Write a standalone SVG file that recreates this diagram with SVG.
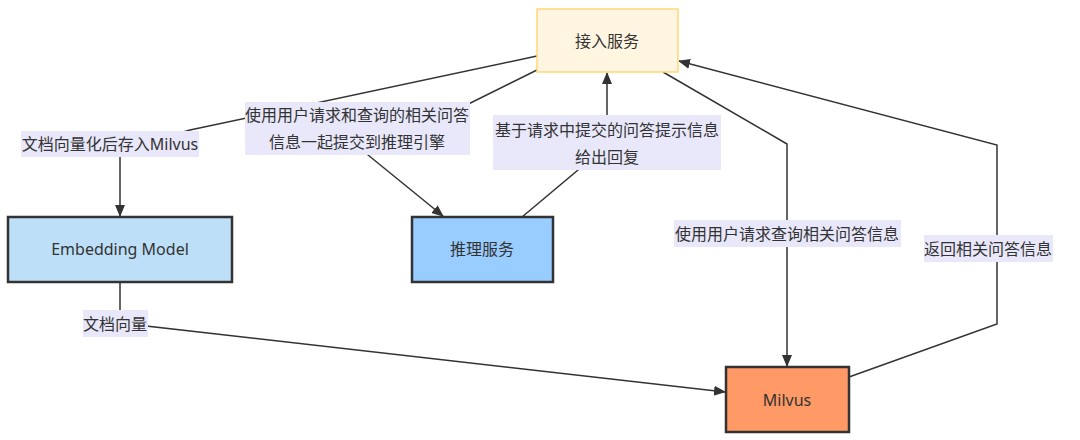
<svg xmlns="http://www.w3.org/2000/svg" width="1080" height="440" viewBox="0 0 1080 440">
<style>
text{font-family:"Noto Sans","Noto Sans CJK SC",sans-serif;font-size:16px;fill:#333;text-anchor:middle;dominant-baseline:central}
.edge{fill:none;stroke:#333;stroke-width:1.5}
.lbl{fill:#e8e8fa}
.node{stroke:#333;stroke-width:2.5}
</style>
<defs>
<marker id="arr" markerUnits="userSpaceOnUse" markerWidth="12" markerHeight="12" viewBox="0 0 12 12" refX="11" refY="6" orient="auto">
<path d="M0,1 L12,6 L0,11 z" fill="#333"/>
</marker>
</defs>
<rect width="1080" height="440" fill="#fff"/>
<g id="connectors">
<path class="edge" d="M537,56 L190,130 L120,150 L120,216" marker-end="url(#arr)"/>
<path class="edge" d="M537,70 L420,128 L368,155 L443,216" marker-end="url(#arr)"/>
<path class="edge" d="M522,217 L578,170 L607,130 L607,73" marker-end="url(#arr)"/>
<path class="edge" d="M663,72 L787,144 L787,366" marker-end="url(#arr)"/>
<path class="edge" d="M849,377 L997,324 L997,145 L679,61" marker-end="url(#arr)"/>
<path class="edge" d="M120,282 L120,323 L725,392" marker-end="url(#arr)"/>
<g id="edge-labels">
<rect class="lbl" x="21" y="131" width="178" height="26"/>
<text x="110" y="144">文档向量化后存入Milvus</text>
<rect class="lbl" x="245" y="102" width="225" height="53"/>
<text x="357" y="115">使用用户请求和查询的相关问答</text>
<text x="357" y="142">信息一起提交到推理引擎</text>
<rect class="lbl" x="493" y="115" width="228" height="55"/>
<text x="607" y="130">基于请求中提交的问答提示信息</text>
<text x="607" y="157">给出回复</text>
<rect class="lbl" x="674" y="220" width="227" height="27"/>
<text x="787" y="234">使用用户请求查询相关问答信息</text>
<rect class="lbl" x="924" y="235" width="129" height="27"/>
<text x="988" y="249">返回相关问答信息</text>
<rect class="lbl" x="83" y="310" width="65" height="27"/>
<text x="115" y="324">文档向量</text>
</g>
</g>
<g id="access">
<rect x="537" y="9" width="141" height="63" fill="#fff5e0" stroke="#ffd97a" stroke-width="1.5"/>
<text x="607" y="41">接入服务</text>
</g>
<g id="embedding">
<rect class="node" x="8" y="217" width="224" height="65" fill="#bde0f8"/>
<text x="120" y="249">Embedding Model</text>
</g>
<g id="inference">
<rect class="node" x="412" y="217" width="141" height="65" fill="#99ccff"/>
<text x="482" y="249">推理服务</text>
</g>
<g id="milvus">
<rect class="node" x="726" y="367" width="123" height="65" fill="#ff9966"/>
<text x="787" y="400">Milvus</text>
</g>
</svg>
